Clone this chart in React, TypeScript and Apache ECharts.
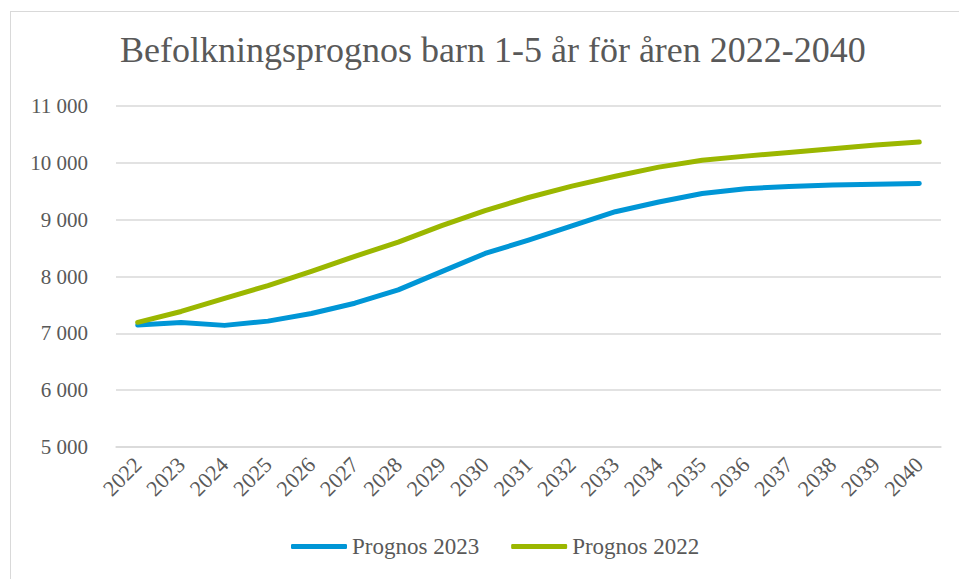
import React, { useEffect, useRef } from "react";
import * as echarts from "echarts";

const years = ["2022","2023","2024","2025","2026","2027","2028","2029","2030","2031","2032","2033","2034","2035","2036","2037","2038","2039","2040"];
const prognos2023 = [7145, 7190, 7140, 7215, 7350, 7530, 7765, 8085, 8405, 8640, 8890, 9140, 9310, 9460, 9545, 9585, 9612, 9625, 9637];
const prognos2022 = [7194, 7385, 7615, 7840, 8090, 8355, 8605, 8895, 9160, 9390, 9590, 9765, 9925, 10045, 10118, 10183, 10247, 10312, 10365];
const yTicks = { min: 5000, max: 11000, interval: 1000 };

const FONT = "Liberation Serif";
const GRAY = "#595959";

export default function App() {
  const ref = useRef<HTMLDivElement>(null);
  useEffect(() => {
    document.body.style.margin = "0";
    const chart = echarts.init(ref.current!, null, { renderer: "svg" });
    chart.setOption({
      animation: false,
      backgroundColor: "#ffffff",
      textStyle: { fontFamily: FONT },
      title: {
        text: "Befolkningsprognos barn 1-5 år för åren 2022-2040",
        left: 115,
        top: 27,
        textStyle: { fontFamily: FONT, fontSize: 36, fontWeight: "normal", color: GRAY },
      },
      legend: {
        bottom: 16,
        left: 286,
        itemWidth: 56,
        itemHeight: 5,
        itemGap: 32,
        icon: "roundRect",
        textStyle: { fontFamily: FONT, fontSize: 23, color: GRAY },
        data: ["Prognos 2023", "Prognos 2022"],
      },
      grid: { left: 116, right: 18, top: 106, bottom: 132 },
      xAxis: {
        type: "category",
        data: years,
        boundaryGap: true,
        axisLine: { show: true, lineStyle: { color: "#D9D9D9", width: 1.5 } },
        axisTick: { show: false },
        axisLabel: { rotate: 45, fontFamily: FONT, fontSize: 22, color: GRAY, margin: 14, interval: 0 },
      },
      yAxis: {
        type: "value",
        min: yTicks.min,
        max: yTicks.max,
        interval: yTicks.interval,
        axisLine: { show: false },
        axisTick: { show: false },
        splitLine: { lineStyle: { color: "#D9D9D9", width: 1.5 } },
        axisLabel: {
          fontFamily: FONT,
          fontSize: 21,
          color: GRAY,
          margin: 28,
          formatter: (v: number) => {
            const s = String(v);
            return s.length > 3 ? s.slice(0, s.length - 3) + " " + s.slice(-3) : s;
          },
        },
      },
      series: [
        {
          name: "Prognos 2023",
          type: "line",
          data: prognos2023,
          symbol: "none",
          lineStyle: { color: "#0096D6", width: 5, cap: "round", join: "round" },
          itemStyle: { color: "#0096D6" },
        },
        {
          name: "Prognos 2022",
          type: "line",
          data: prognos2022,
          symbol: "none",
          lineStyle: { color: "#9BB700", width: 5, cap: "round", join: "round" },
          itemStyle: { color: "#9BB700" },
        },
      ],
    });
    return () => chart.dispose();
  }, []);
  return (
    <div style={{ position: "absolute", left: 0, top: 0, width: 959, height: 579, overflow: "hidden", background: "#fff" }}>
      <div ref={ref} style={{ position: "absolute", left: 0, top: 0, width: 959, height: 579 }} />
      <div
        style={{
          position: "absolute",
          left: 10,
          top: 11,
          width: 960,
          height: 580,
          borderLeft: "1.5px solid #D9D9D9",
          borderTop: "1.5px solid #D9D9D9",
          pointerEvents: "none",
        }}
      />
    </div>
  );
}
